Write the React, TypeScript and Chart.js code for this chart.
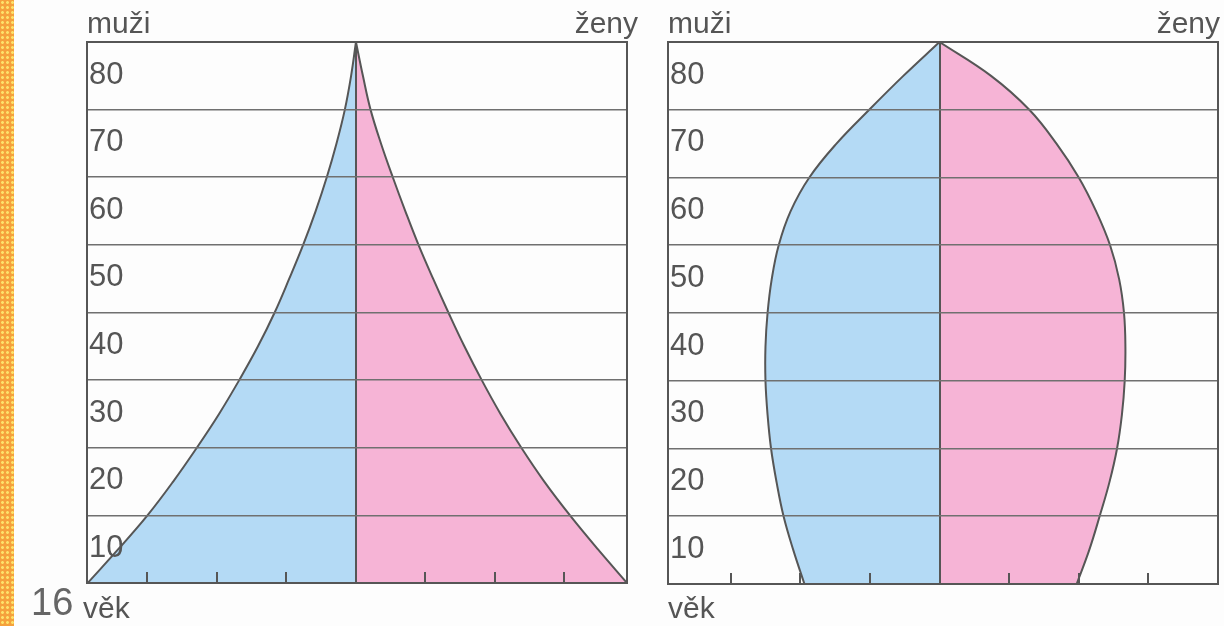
import React, { useEffect, useRef } from 'react';
import { Chart, registerables } from 'chart.js';

Chart.register(...registerables);

// ---- data ----
const ages = [0, 5, 10, 15, 20, 25, 30, 35, 40, 45, 50, 55, 60, 65, 70, 75, 80];
const ageTicks = [0, 10, 20, 30, 40, 50, 60, 70, 80];
const xTickMarks = [-3, -2, -1, 1, 2, 3];

// progressive (left) pyramid, half-widths per age
const progressiveMen = [3.86, 3.42, 3.0, 2.63, 2.29, 1.97, 1.68, 1.41, 1.17, 0.96, 0.76, 0.58, 0.42, 0.28, 0.16, 0.07, 0];
const progressiveWomen = [3.9, 3.48, 3.08, 2.71, 2.38, 2.08, 1.81, 1.56, 1.33, 1.11, 0.9, 0.71, 0.53, 0.36, 0.21, 0.1, 0];

// stationary (right) pyramid
const stationaryMen = [1.94, 2.1, 2.24, 2.34, 2.42, 2.47, 2.5, 2.5, 2.47, 2.41, 2.31, 2.14, 1.87, 1.48, 1.01, 0.52, 0];
const stationaryWomen = [1.97, 2.15, 2.3, 2.44, 2.55, 2.62, 2.66, 2.67, 2.65, 2.58, 2.45, 2.25, 2.0, 1.68, 1.29, 0.74, 0];

const menLabel = 'muži';
const womenLabel = 'ženy';
const ageLabel = 'věk';
const pageNumber = '16';

// ---- styles ----
const BLUE = '#b4daf5';
const PINK = '#f6b4d6';
const LINE = '#565656';
const GRID = '#707070';
const TEXT = '#555555';
const FONT = '"Liberation Sans", Arial, sans-serif';

const framePlugin = {
  id: 'frame',
  afterDraw(chart: any, _args: any, opts: any) {
    const { ctx, chartArea: a } = chart;
    const x = chart.scales.x;
    ctx.save();
    ctx.strokeStyle = LINE;
    ctx.lineWidth = 2;
    ctx.strokeRect(a.left, a.top, a.right - a.left, a.bottom - a.top);
    for (const v of xTickMarks) {
      const px = Math.round(x.getPixelForValue(v));
      ctx.beginPath();
      ctx.moveTo(px, a.bottom);
      ctx.lineTo(px, a.bottom - 11);
      ctx.stroke();
    }
    ctx.fillStyle = TEXT;
    ctx.font = `30px ${FONT}`;
    ctx.textBaseline = 'alphabetic';
    ctx.textAlign = 'left';
    ctx.fillText(menLabel, a.left, 33);
    ctx.textAlign = 'right';
    ctx.fillText(womenLabel, a.right + opts.womenDx, 33);
    ctx.textAlign = 'left';
    ctx.fillText(ageLabel, a.left + opts.ageDx, 618);
    if (opts.page) {
      ctx.fillStyle = '#666666';
      ctx.font = `38px ${FONT}`;
      ctx.fillText(pageNumber, 17, 615);
    }
    ctx.restore();
  },
};

type PyramidProps = {
  men: number[];
  women: number[];
  xMin: number;
  xMax: number;
  left: number;
  width: number;
  padding: { left: number; right: number; top: number; bottom: number };
  womenDx: number;
  ageDx: number;
  page?: boolean;
};

function Pyramid(props: PyramidProps) {
  const ref = useRef<HTMLCanvasElement>(null);
  useEffect(() => {
    if (!ref.current) return;
    const chart = new Chart(ref.current, {
      type: 'line',
      data: {
        datasets: [
          {
            label: menLabel,
            data: ages.map((a, i) => ({ x: -props.men[i], y: a })),
            backgroundColor: BLUE,
            borderColor: LINE,
            borderWidth: 2,
            fill: 'origin',
            pointRadius: 0,
            tension: 0.4,
          },
          {
            label: womenLabel,
            data: ages.map((a, i) => ({ x: props.women[i], y: a })),
            backgroundColor: PINK,
            borderColor: LINE,
            borderWidth: 2,
            fill: 'origin',
            pointRadius: 0,
            tension: 0.4,
          },
        ],
      } as any,
      options: {
        indexAxis: 'y',
        animation: false,
        responsive: false,
        events: [],
        layout: { padding: props.padding },
        scales: {
          x: {
            type: 'linear',
            min: props.xMin,
            max: props.xMax,
            ticks: { display: false, stepSize: 1 },
            grid: {
              z: 1,
              drawTicks: false,
              lineWidth: 2,
              color: (c: any) => (c.tick && c.tick.value === 0 ? LINE : 'rgba(0,0,0,0)'),
            },
            border: { display: false },
          },
          y: {
            type: 'linear',
            min: 0,
            max: 80,
            afterBuildTicks: (s: any) => {
              s.ticks = ageTicks.map((v) => ({ value: v }));
            },
            ticks: {
              z: 2,
              mirror: true,
              padding: 2,
              labelOffset: 33,
              color: TEXT,
              autoSkip: false,
              font: { family: FONT, size: 31 },
              callback: (v: any) => (v === 0 ? '' : String(v)),
            },
            grid: { z: 1, drawTicks: false, lineWidth: 1.6, color: GRID },
            border: { display: false },
          },
        },
        plugins: {
          legend: { display: false },
          tooltip: { enabled: false },
          frame: { womenDx: props.womenDx, ageDx: props.ageDx, page: !!props.page },
        } as any,
      } as any,
      plugins: [framePlugin],
    });
    return () => chart.destroy();
  }, []);
  return (
    <canvas
      ref={ref}
      width={props.width}
      height={626}
      style={{ position: 'absolute', left: props.left, top: 0, width: props.width, height: 626 }}
    />
  );
}

export default function App() {
  return (
    <div
      style={{
        position: 'absolute',
        left: 0,
        top: 0,
        width: 1224,
        height: 626,
        background: '#fdfdfd',
        overflow: 'hidden',
      }}
    >
      <div
        style={{
          position: 'absolute',
          left: 0,
          top: 0,
          width: 14,
          height: 626,
          backgroundColor: '#f5a13c',
          backgroundImage: 'radial-gradient(circle, #fde26a 1.2px, rgba(0,0,0,0) 1.6px)',
          backgroundSize: '5px 5px',
        }}
      />
      <Pyramid
        men={progressiveMen}
        women={progressiveWomen}
        xMin={-3.87}
        xMax={3.9}
        left={14}
        width={636}
        padding={{ left: 69, right: 23, top: 42, bottom: 43 }}
        womenDx={11}
        ageDx={-4}
        page
      />
      <Pyramid
        men={stationaryMen}
        women={stationaryWomen}
        xMin={-3.9}
        xMax={4.0}
        left={650}
        width={574}
        padding={{ left: 14, right: 6, top: 42, bottom: 42 }}
        womenDx={2}
        ageDx={0}
      />
    </div>
  );
}
